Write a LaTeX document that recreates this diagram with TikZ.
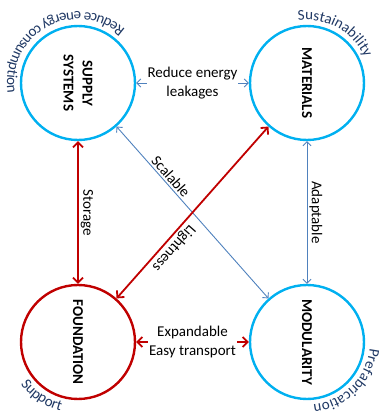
\documentclass[tikz,border=0pt]{standalone}
\usepackage{fontspec}
\setmainfont{Carlito}
\usetikzlibrary{arrows.meta,calc,decorations.text}
\definecolor{ringblue}{RGB}{0,176,240}
\definecolor{ringred}{RGB}{192,0,0}
\definecolor{linkblue}{RGB}{79,129,189}
\definecolor{arcblue}{RGB}{31,56,100}
\newcommand\arcfont{\fontsize{15}{18}\selectfont}

\begin{document}
\begin{tikzpicture}[x=1pt, y=1pt,
      font=\fontsize{15}{19}\selectfont,
      hub/.style={circle, minimum size=114pt, inner sep=0pt, line width=2.4pt},
      title/.style={rotate=-90, align=center, font=\fontsize{15}{19}\selectfont\bfseries},
      tag/.style={text=black, inner sep=2pt},
      link/.style={linkblue, line width=0.9pt,
        {Straight Barb[length=4pt,width=8pt]}-{Straight Barb[length=4pt,width=8pt]}},
      heavy/.style={ringred, line width=1.8pt,
        {Straight Barb[length=5pt,width=10pt]}-{Straight Barb[length=5pt,width=10pt]}}]
  \useasboundingbox (0,0) rectangle (385,416);
  % the four circles
  \node[hub, draw=ringblue] (sup) at (78,333) {};
  \node[hub, draw=ringblue] (mat) at (307,333) {};
  \node[hub, draw=ringred] (fou) at (78,74) {};
  \node[hub, draw=ringblue] (mod) at (307,74) {};
  \node[title] (sup-t) at (sup) {SUPPLY\\SYSTEMS};
  \node[title] (mat-t) at (mat) {MATERIALS};
  \node[title] (fou-t) at (fou) {FOUNDATION};
  \node[title] (mod-t) at (mod) {MODULARITY};
  % links
  \draw[link] (sup) -- (mat)
    node[tag, midway, fill=white, inner sep=1pt, align=center] (leak) {Reduce energy\\leakages};
  \draw[heavy] (sup) -- (fou)
    node[tag, midway, rotate=-90, anchor=south] (stor) {Storage};
  \draw[link] (mat) -- (mod)
    node[tag, midway, rotate=-90, anchor=south] (adap) {Adaptable};
  \draw[heavy] (fou) -- (mod)
    node[tag, midway, fill=white, inner sep=1pt, align=center] (expa) {Expandable\\Easy transport};
  \draw[link] (sup) -- (mod)
    node[tag, pos=0.32, sloped, above] (scal) {Scalable};
  \draw[heavy] (mat) -- (fou)
    node[tag, pos=0.67, sloped, allow upside down, above] (light) {Lightness};
  % words round the circles
  \path[decorate, decoration={text along path, text align=center, text color=arcblue,
      text={|\arcfont|Reduce energy consumption}}]
    ($(sup)+(38.5:71)$) arc[start angle=38.5, end angle=198.5, radius=71];
  \path[decorate, decoration={text along path, text align=center, text color=arcblue,
      text={|\arcfont|Sustainability}}]
    ($(mat)+(111:63)$) arc[start angle=111, end angle=11, radius=63];
  \path[decorate, decoration={text along path, text align=center, text color=arcblue,
      text={|\arcfont|Support}}]
    ($(fou)+(206:71)$) arc[start angle=206, end angle=266, radius=71];
  \path[decorate, decoration={text along path, text align=center, text color=arcblue,
      text={|\arcfont|Prefabrication}}]
    ($(mod)+(5:63)$) arc[start angle=5, end angle=-95, radius=63];
\end{tikzpicture}
\end{document}
